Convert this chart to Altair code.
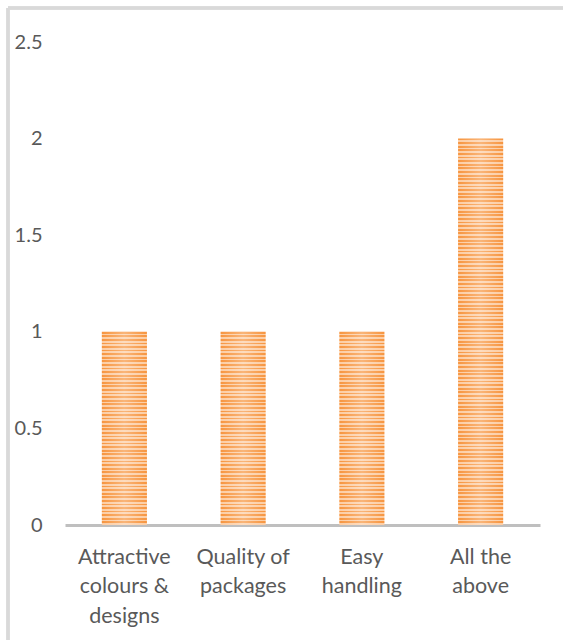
import altair as alt
import pandas as pd

# Survey responses: reasons for choosing the product
categories = ["Attractive colours & designs", "Quality of packages", "Easy handling", "All the above"]
counts = [1, 1, 1, 2]

df = pd.DataFrame({"category": categories, "count": counts})

PLOT_W, PLOT_H = 475, 483
Y_MAX = 2.5
DARK = "#F7953F"
LIGHT = "#FCCDA4"
TEXT = "#595959"


def striped_fill(value, period=3.6):
    """Vertical gradient with hard stops that reads as horizontal stripes."""
    n = max(1, round(value / Y_MAX * PLOT_H / period))
    stops = []
    for i in range(n):
        a, m, b = i / n, (i + 0.5) / n, (i + 1) / n
        stops += [
            {"offset": a, "color": DARK},
            {"offset": m, "color": DARK},
            {"offset": m, "color": LIGHT},
            {"offset": b, "color": LIGHT},
        ]
    return alt.LinearGradient(gradient="linear", x1=0, y1=0, x2=0, y2=1, stops=stops)


glow = alt.LinearGradient(
    gradient="linear", x1=0, y1=0, x2=1, y2=0,
    stops=[
        {"offset": 0, "color": "rgba(255,255,255,0)"},
        {"offset": 0.5, "color": "rgba(255,255,255,0.3)"},
        {"offset": 1, "color": "rgba(255,255,255,0)"},
    ],
)

x_enc = alt.X(
    "category:N",
    sort=categories,
    scale=alt.Scale(paddingInner=0.62, paddingOuter=0.31),
    axis=alt.Axis(
        title=None,
        labelExpr="split(datum.value == 'Attractive colours & designs' ? 'Attractive|colours &|designs' : datum.value == 'Quality of packages' ? 'Quality of|packages' : datum.value == 'Easy handling' ? 'Easy|handling' : 'All the|above', '|')",
        labelAngle=0,
        labelFont="Lato",
        labelFontSize=21.5,
        labelColor=TEXT,
        labelPadding=21,
        labelLineHeight=29.5,
        labelLimit=200,
        ticks=False,
        domainColor="#BFBFBF",
        domainWidth=3,
    ),
)
y_enc = alt.Y(
    "count:Q",
    scale=alt.Scale(domain=[0, Y_MAX], nice=False),
    axis=alt.Axis(
        title=None,
        values=[0, 0.5, 1, 1.5, 2, 2.5],
        labelExpr="datum.value",
        labelFont="Lato",
        labelFontSize=20,
        labelColor=TEXT,
        labelPadding=23,
        domain=False,
        ticks=False,
        grid=False,
    ),
)

layers = []
for v in sorted(set(counts)):
    layers.append(
        alt.Chart(df)
        .transform_filter(alt.datum["count"] == v)
        .mark_bar(fill=striped_fill(v))
        .encode(x=x_enc, y=y_enc)
    )
layers.append(alt.Chart(df).mark_bar(fill=glow).encode(x=x_enc, y=y_enc))

# Light chart-area frame along the left and top edges
frame_left = alt.Chart(df).mark_rule(color="#D9D9D9", strokeWidth=3).encode(
    x=alt.value(-57), y=alt.value(-34), y2=alt.value(PLOT_H + 115)
)
frame_top = alt.Chart(df).mark_rule(color="#D9D9D9", strokeWidth=3).encode(
    x=alt.value(-57), x2=alt.value(PLOT_W + 23), y=alt.value(-34)
)

chart = (
    alt.layer(*layers, frame_left, frame_top)
    .properties(
        width=PLOT_W,
        height=PLOT_H,
        padding={"left": 65, "top": 42, "right": 23, "bottom": 115},
        autosize=alt.AutoSizeParams(type="none"),
        background="white",
    )
    .configure_view(stroke=None)
)

chart.save("out.html", embed_options={"renderer": "svg", "actions": False})
